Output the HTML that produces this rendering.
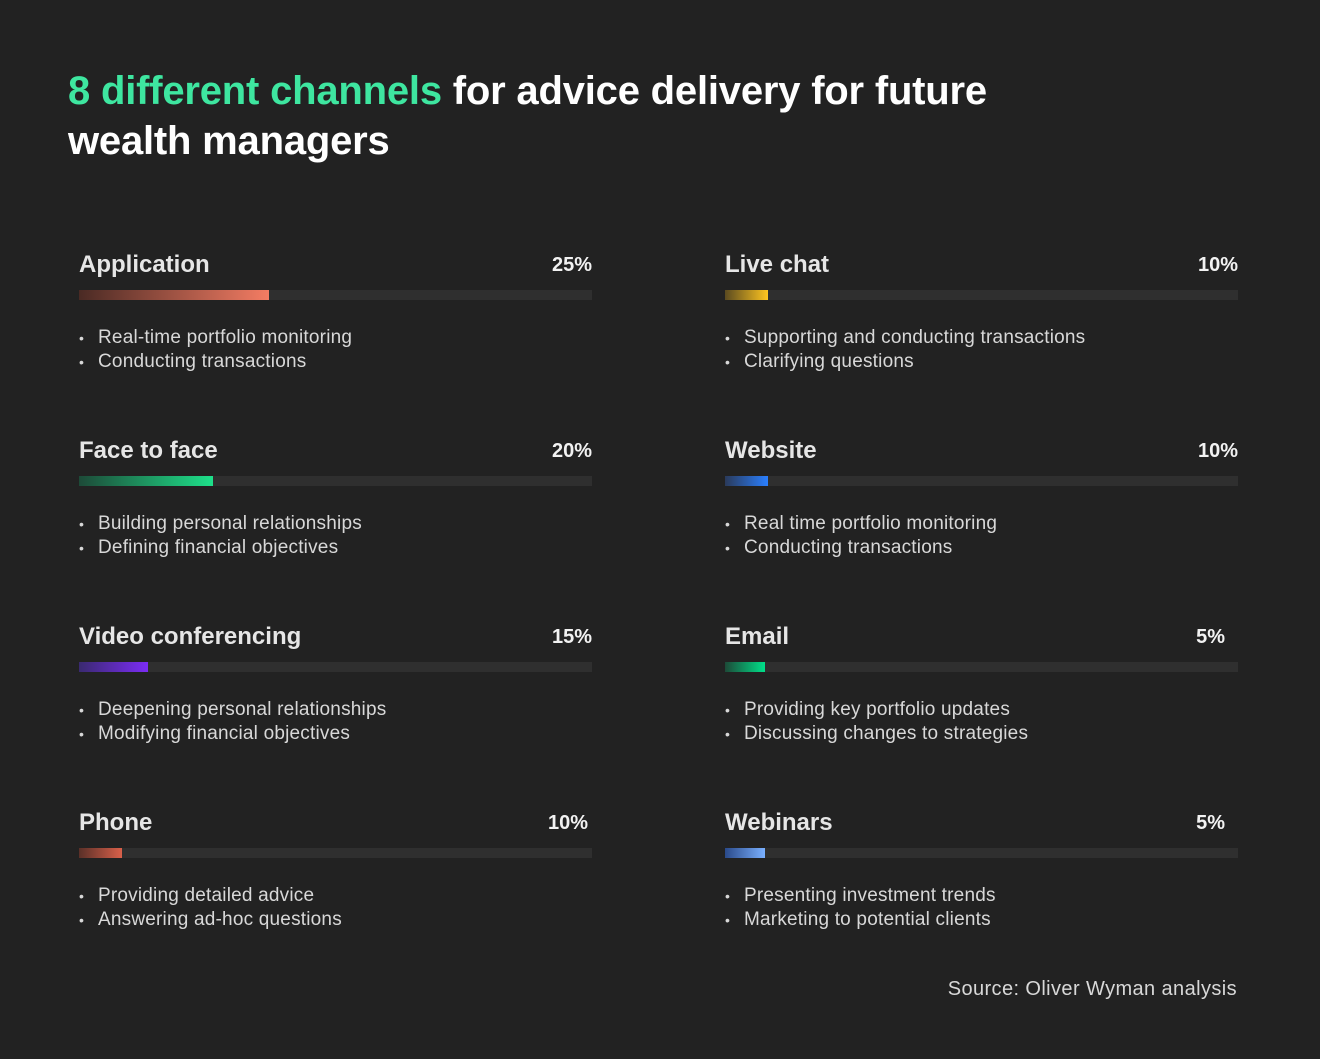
<!DOCTYPE html>
<html><head><meta charset="utf-8"><style>
body{margin:0;width:1320px;height:1059px;background:#222222;font-family:"Liberation Sans",sans-serif;position:relative;overflow:hidden}
.t{position:absolute;left:68px;font-weight:bold;font-size:40px;color:#fff;line-height:50px;top:66px;letter-spacing:-0.2px}
.t span{color:#3ee6a0}
.card{position:absolute;width:513px;height:160px}
.h{position:absolute;left:0;top:2px;font-size:24px;font-weight:bold;color:#e6e6e6;line-height:30px}
.p{position:absolute;right:0;top:4px;font-size:20px;font-weight:bold;color:#f2f2f2;line-height:26px}
.tr{position:absolute;left:0;top:42px;width:513px;height:10px;background:#2f2f2f}
.b{position:absolute;left:0;top:0;height:10px}
ul{position:absolute;left:0;top:78px;margin:0;padding:0;list-style:none;font-size:19px;color:#d8d8d8;line-height:24px;letter-spacing:0.2px}
li{padding-left:19px;position:relative}
li:before{content:"•";position:absolute;left:0;font-size:14px}
.src{position:absolute;right:83px;top:978px;font-size:20px;color:#d8d8d8;letter-spacing:0.4px}
</style></head><body>
<div class="t"><span>8 different channels</span> for advice delivery for future<br>wealth managers</div>

<div class="card" style="left:79px;top:248px"><div class="h">Application</div><div class="p">25%</div><div class="tr"><div class="b" style="width:190px;background:linear-gradient(90deg,#4a2a24,#f47c63)"></div></div><ul><li>Real-time portfolio monitoring</li><li>Conducting transactions</li></ul></div>
<div class="card" style="left:79px;top:434px"><div class="h">Face to face</div><div class="p">20%</div><div class="tr"><div class="b" style="width:134px;background:linear-gradient(90deg,#1d4a38,#1ee08a)"></div></div><ul><li>Building personal relationships</li><li>Defining financial objectives</li></ul></div>
<div class="card" style="left:79px;top:620px"><div class="h">Video conferencing</div><div class="p">15%</div><div class="tr"><div class="b" style="width:69px;background:linear-gradient(90deg,#3a2a70,#7b2cf5)"></div></div><ul><li>Deepening personal relationships</li><li>Modifying financial objectives</li></ul></div>
<div class="card" style="left:79px;top:806px"><div class="h">Phone</div><div class="p" style="right:4px">10%</div><div class="tr"><div class="b" style="width:43px;background:linear-gradient(90deg,#5a3028,#d9604a)"></div></div><ul><li>Providing detailed advice</li><li>Answering ad-hoc questions</li></ul></div>

<div class="card" style="left:725px;top:248px"><div class="h">Live chat</div><div class="p">10%</div><div class="tr"><div class="b" style="width:43px;background:linear-gradient(90deg,#5a4a20,#ffc520)"></div></div><ul><li>Supporting and conducting transactions</li><li>Clarifying questions</li></ul></div>
<div class="card" style="left:725px;top:434px"><div class="h">Website</div><div class="p">10%</div><div class="tr"><div class="b" style="width:43px;background:linear-gradient(90deg,#2a3a5a,#2a7fff)"></div></div><ul><li>Real time portfolio monitoring</li><li>Conducting transactions</li></ul></div>
<div class="card" style="left:725px;top:620px"><div class="h">Email</div><div class="p" style="right:13px">5%</div><div class="tr"><div class="b" style="width:40px;background:linear-gradient(90deg,#1d4a38,#00e08a)"></div></div><ul><li>Providing key portfolio updates</li><li>Discussing changes to strategies</li></ul></div>
<div class="card" style="left:725px;top:806px"><div class="h">Webinars</div><div class="p" style="right:13px">5%</div><div class="tr"><div class="b" style="width:40px;background:linear-gradient(90deg,#2a4a8a,#7ab0ff)"></div></div><ul><li>Presenting investment trends</li><li>Marketing to potential clients</li></ul></div>

<div class="src">Source: Oliver Wyman analysis</div>
</body></html>
